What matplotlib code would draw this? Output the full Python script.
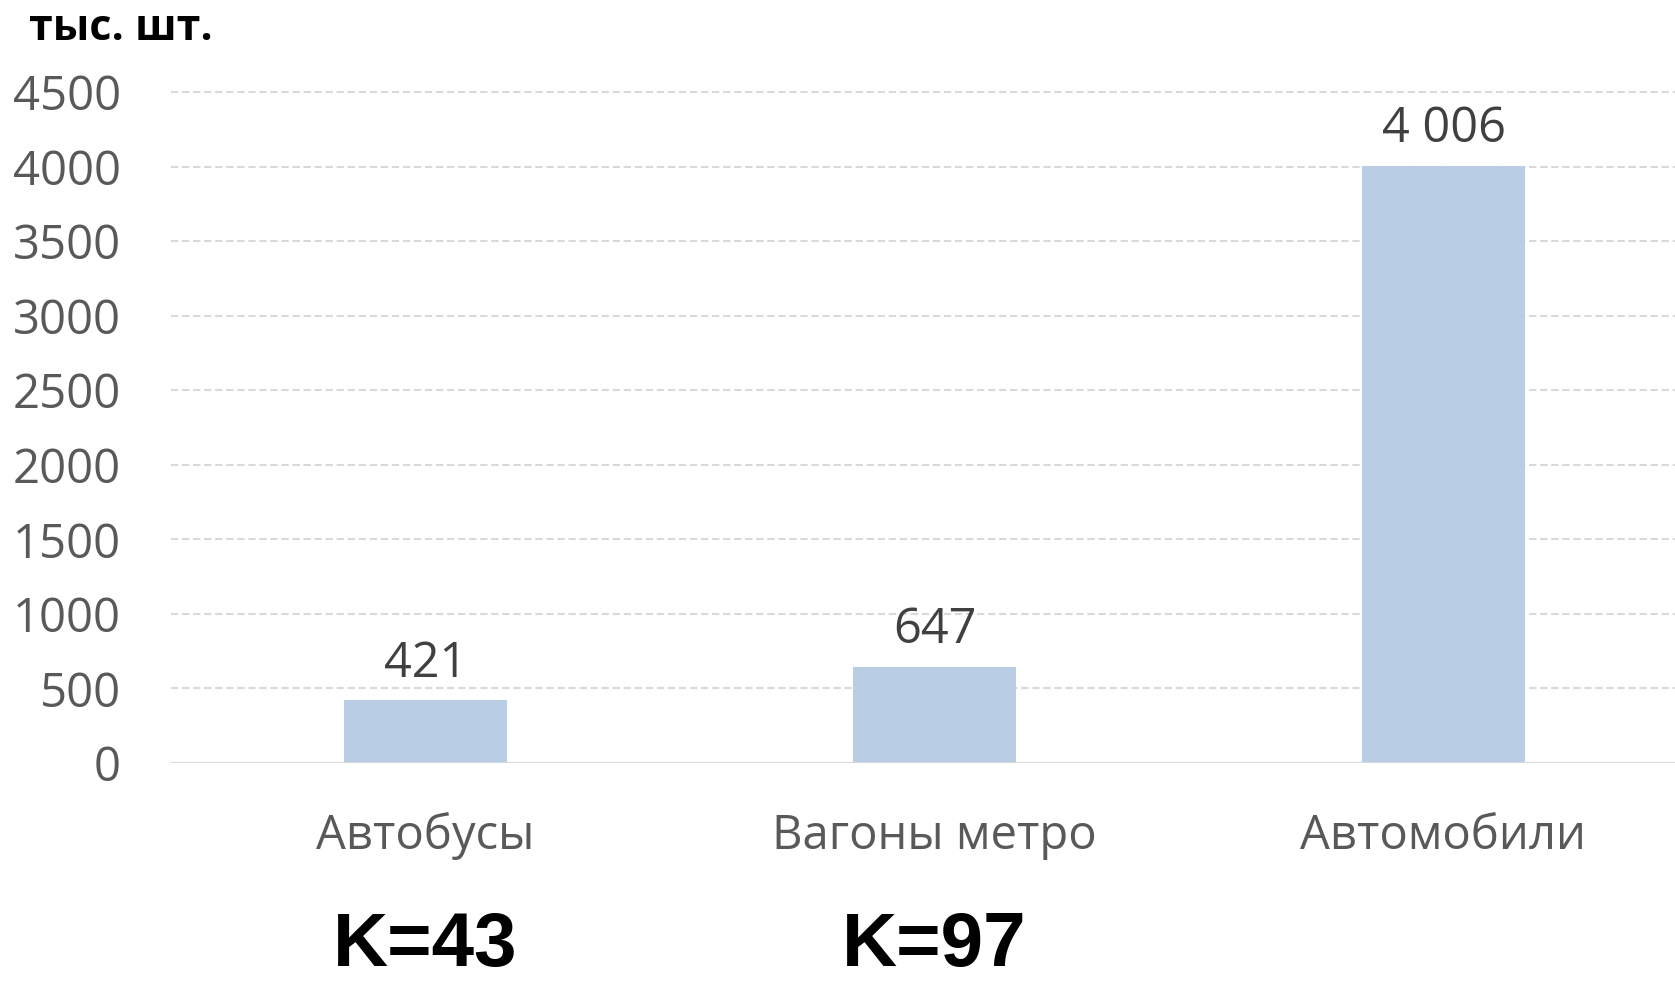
import matplotlib.pyplot as plt
from matplotlib.transforms import blended_transform_factory

# Производство транспорта, тыс. шт.
categories = ['Автобусы', 'Вагоны метро', 'Автомобили']
values = [421, 647, 4006]
value_labels = ['421', '647', '4 006']
k_labels = ['K=43', 'K=97', None]
yticks = [0, 500, 1000, 1500, 2000, 2500, 3000, 3500, 4000, 4500]

fig = plt.figure(figsize=(16.75, 9.84), dpi=100)
ax = fig.add_axes([171 / 1675, 1 - 763 / 984, 1 - 171 / 1675, (763 - 92) / 984])

x = range(len(categories))
ax.bar(x, values, width=0.32, color='#b9cde5', zorder=2)

ax.set_ylim(0, 4500)
ax.set_xlim(-0.5, 2.5 - 23 / 509)
ax.set_yticks(yticks)
ax.set_yticklabels([str(t) for t in yticks], fontsize=34, color='#595959', family='Open Sans')
ax.tick_params(axis='y', length=0, pad=36)
ax.set_xticks([])

# dashed grid, solid baseline
for t in yticks[1:]:
    ax.axhline(t, color='#d9d9d9', lw=1.5, ls=(0, (3.5, 1.8)), zorder=1, clip_on=False)
ax.axhline(0, color='#d9d9d9', lw=2.2, zorder=3)
for s in ax.spines.values():
    s.set_visible(False)

# value labels above bars
for xi, v, lab in zip(x, values, value_labels):
    ax.annotate(lab, (xi, v), xytext=(0, 17), textcoords='offset points',
                ha='center', va='baseline', fontsize=35, color='#404040', family='Open Sans')

# category names and K ratios under the axis
trans = blended_transform_factory(ax.transData, fig.transFigure)
for xi, name, k in zip(x, categories, k_labels):
    ax.text(xi, 1 - 849 / 984, name, transform=trans, ha='center', va='baseline',
            fontsize=34, color='#595959', family='Open Sans')
    if k:
        ax.text(xi, 1 - 966 / 984, k, transform=trans, ha='center', va='baseline',
                fontsize=55, fontweight='bold', color='black', family='Liberation Sans')

fig.text(29 / 1675, 1 - 40 / 984, 'тыс. шт.', ha='left', va='baseline',
         fontsize=31, fontweight='bold', color='black', family='Open Sans')

fig.savefig('out.png', dpi=100)
